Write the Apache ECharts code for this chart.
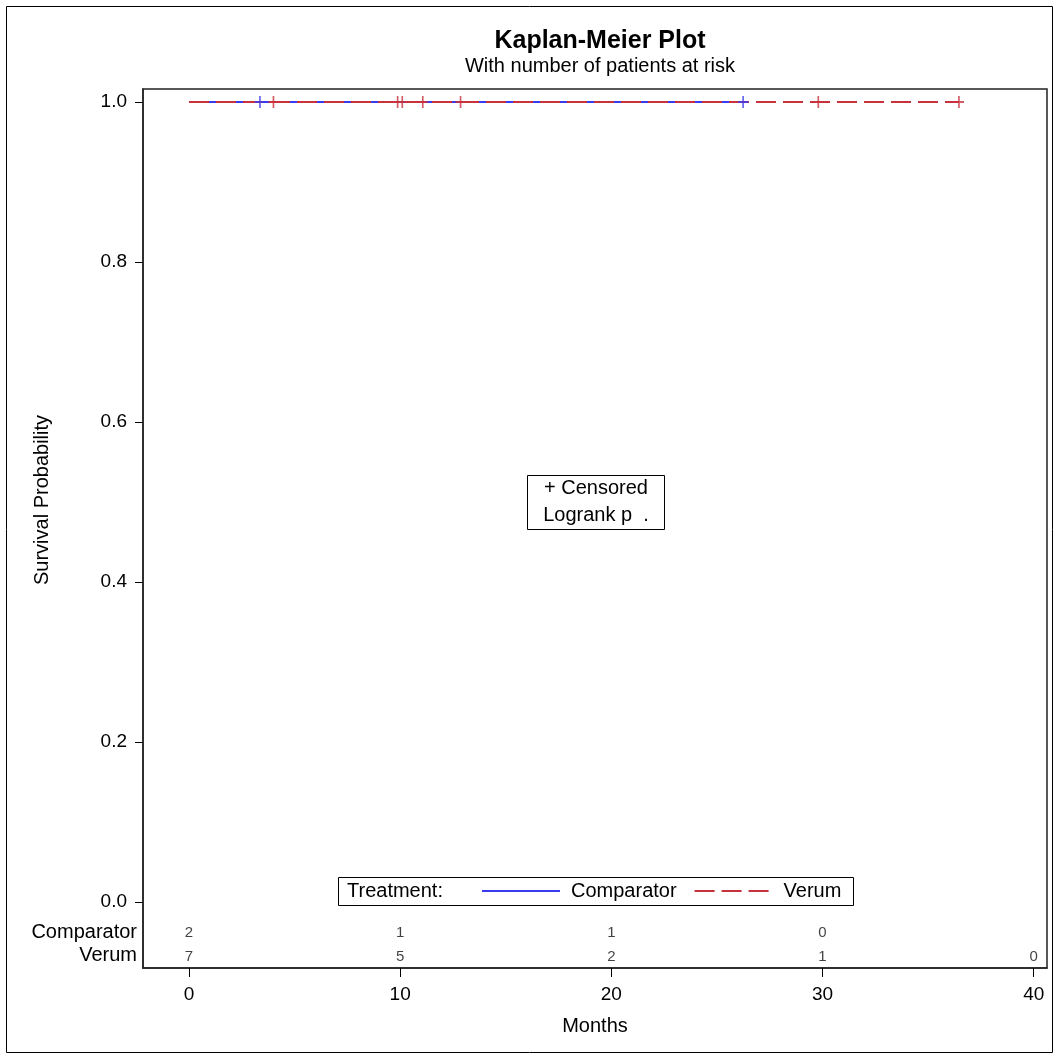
<!DOCTYPE html>
<html>
<head>
<meta charset="utf-8">
<title>Kaplan-Meier Plot</title>
<script src="https://cdn.jsdelivr.net/npm/echarts@6/dist/echarts.min.js"></script>
<style>
  html, body { margin: 0; padding: 0; background: #fff; }
  #chart { width: 1059px; height: 1058px; }
</style>
</head>
<body>
<div id="chart"></div>
<script>
// Treatment groups
const groups = ['Comparator', 'Verum'];
const groupColors = ['#3a3af0', '#c8323c'];

// Survival step curves (months, probability)
const comparatorCurve = [[0, 1.0], [26.24, 1.0]];
const verumCurve = [[0, 1.0], [36.46, 1.0]];

// Censored observations (months)
const comparatorCensored = [3.36, 26.24];
const verumCensored = [4.0, 9.88, 10.1, 11.07, 12.86, 29.8, 36.46];

// Number at risk at each tick month
const riskMonths = [0, 10, 20, 30, 40];
const comparatorAtRisk = [2, 1, 1, 0];
const verumAtRisk = [7, 5, 2, 1, 0];

// Axis ticks
const xTicks = [0, 10, 20, 30, 40];
const yTicks = [0, 0.2, 0.4, 0.6, 0.8, 1.0];

const FONT = '"Liberation Sans", Arial, Helvetica, sans-serif';

// Rows of the at-risk table sit below zero inside the plot frame
const riskRowY = [-0.039, -0.068];

function riskData(values, row) {
  return values.map((n, i) => [riskMonths[i], riskRowY[row], n]);
}

const plusSymbol = 'path://M5,0 L5,10 M0,5 L10,5';

function censorSeries(name, times, color) {
  return {
    name: name + ' censored',
    type: 'scatter',
    data: times.map(t => [t, 1.0]),
    symbol: plusSymbol,
    symbolSize: [10, 12],
    itemStyle: { color: 'transparent', borderColor: color, borderWidth: 1.8 },
    z: 5,
    silent: true
  };
}

function riskSeries(values, row) {
  return {
    name: groups[row] + ' at risk',
    type: 'scatter',
    data: riskData(values, row),
    symbolSize: 0,
    silent: true,
    label: {
      show: true,
      position: 'inside',
      formatter: p => String(p.value[2]),
      fontFamily: FONT,
      fontSize: 15,
      color: '#111'
    }
  };
}

const chart = echarts.init(document.getElementById('chart'), null, { renderer: 'canvas' });

chart.setOption({
  backgroundColor: '#fff',
  animation: false,
  textStyle: { fontFamily: FONT, color: '#000' },
  title: {
    text: 'Kaplan-Meier Plot',
    subtext: 'With number of patients at risk',
    left: 595,
    textAlign: 'center',
    top: 24,
    itemGap: 2,
    textStyle: { fontFamily: FONT, fontSize: 25, fontWeight: 'bold', color: '#000' },
    subtextStyle: { fontFamily: FONT, fontSize: 20, color: '#000' }
  },
  grid: {
    left: 143,
    right: 12,
    top: 89,
    bottom: 90,
    show: true,
    borderColor: '#222',
    borderWidth: 1.5
  },
  xAxis: {
    type: 'value',
    min: -2.178,
    max: 40.63,
    axisLine: { show: true, onZero: false, lineStyle: { color: '#222', width: 1.5 } },
    axisTick: { show: true, customValues: xTicks, length: 9, lineStyle: { color: '#000' } },
    axisLabel: { customValues: xTicks, margin: 17, fontFamily: FONT, fontSize: 19, color: '#000' },
    splitLine: { show: false }
  },
  yAxis: {
    type: 'value',
    min: -0.0825,
    max: 1.01625,
    axisLine: { show: true, onZero: false, lineStyle: { color: '#222', width: 1.5 } },
    axisTick: { show: true, customValues: yTicks, length: 8, lineStyle: { color: '#000' } },
    axisLabel: {
      customValues: yTicks,
      margin: 16,
      fontFamily: FONT,
      fontSize: 19,
      color: '#000',
      formatter: v => v.toFixed(1)
    },
    splitLine: { show: false }
  },
  legend: {
    data: groups,
    left: 481,
    top: 881,
    padding: 0,
    itemWidth: 78,
    itemHeight: 20,
    itemGap: 17,
    itemStyle: { opacity: 0 },
    textStyle: { fontFamily: FONT, fontSize: 20, color: '#000', padding: [0, 0, 0, 6] },
    selectedMode: false
  },
  series: [
    {
      name: groups[0],
      type: 'line',
      step: 'end',
      data: comparatorCurve,
      symbol: 'none',
      color: groupColors[0],
      lineStyle: { color: groupColors[0], width: 2, type: 'solid' },
      z: 3
    },
    {
      name: groups[1],
      type: 'line',
      step: 'end',
      data: verumCurve,
      symbol: 'none',
      color: groupColors[1],
      lineStyle: { color: groupColors[1], width: 2, type: [20, 7] },
      z: 4
    },
    censorSeries(groups[0], comparatorCensored, groupColors[0]),
    censorSeries(groups[1], verumCensored, groupColors[1]),
    riskSeries(comparatorAtRisk, 0),
    riskSeries(verumAtRisk, 1)
  ],
  graphic: [
    // outer frame
    { type: 'rect', shape: { x: 6.5, y: 6.5, width: 1046, height: 1046 },
      style: { fill: 'none', stroke: '#000', lineWidth: 1 }, silent: true },
    // inset box
    { type: 'rect', shape: { x: 527.5, y: 475.5, width: 137, height: 54 },
      style: { fill: '#fff', stroke: '#000', lineWidth: 1 }, z: 10 },
    { type: 'text', x: 596, y: 488, z: 11,
      style: { text: '+ Censored', font: '20px ' + FONT, fill: '#000', align: 'center', verticalAlign: 'middle' } },
    { type: 'text', x: 596, y: 515, z: 11,
      style: { text: 'Logrank p  .', font: '20px ' + FONT, fill: '#000', align: 'center', verticalAlign: 'middle' } },
    // legend frame and heading
    { type: 'rect', shape: { x: 338.5, y: 877.5, width: 515, height: 28 },
      style: { fill: '#fff', stroke: '#000', lineWidth: 1 }, z: 0 },
    { type: 'text', x: 347, y: 891, z: 11,
      style: { text: 'Treatment:', font: '20px ' + FONT, fill: '#000', align: 'left', verticalAlign: 'middle' } },
    // at-risk row labels
    { type: 'text', x: 137, y: 932,
      style: { text: 'Comparator', font: '20px ' + FONT, fill: '#000', align: 'right', verticalAlign: 'middle' } },
    { type: 'text', x: 137, y: 955,
      style: { text: 'Verum', font: '20px ' + FONT, fill: '#000', align: 'right', verticalAlign: 'middle' } },
    // axis titles
    { type: 'text', x: 42, y: 500, rotation: Math.PI / 2,
      style: { text: 'Survival Probability', font: '20px ' + FONT, fill: '#000', align: 'center', verticalAlign: 'middle' } },
    { type: 'text', x: 595, y: 1026,
      style: { text: 'Months', font: '20px ' + FONT, fill: '#000', align: 'center', verticalAlign: 'middle' } }
  ]
});
</script>
</body>
</html>
